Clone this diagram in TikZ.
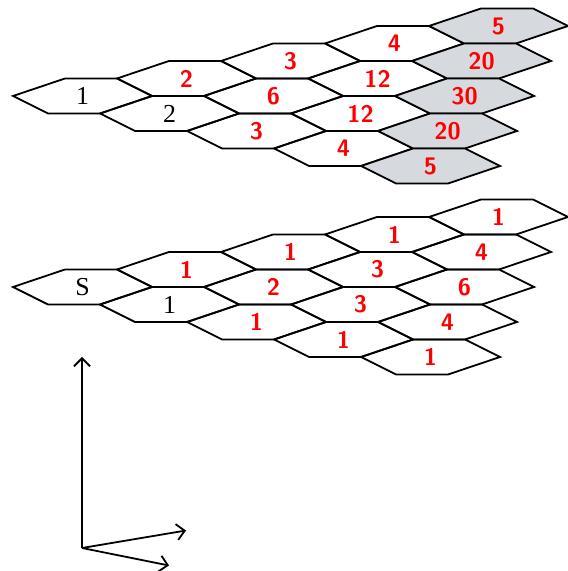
\documentclass[tikz,border=0pt]{standalone}
\usepackage{fontspec}
\setmainfont{Liberation Serif}
\usetikzlibrary{calc,arrows.meta}

\definecolor{cellgray}{RGB}{214,217,222}

\begin{document}
\begin{tikzpicture}[
            x=1bp, y=1bp,
            >={Straight Barb[length=8bp,width=16bp]},
            pics/hexcell/.style={code={
                \path[pic actions] (0,0) -- (52,17.5) -- (104,17.5) -- (139,0) -- (87,-17.5) -- (35,-17.5) -- cycle;}},
            cell/.style={draw, line width=1.8bp},
            shaded/.style={cell, fill=cellgray},
            plain/.style={font=\fontsize{26}{26}\selectfont},
            hand/.style={text=red, font=\sffamily\bfseries\fontsize{24}{24}\selectfont}
        ]
            \useasboundingbox (0,0) rectangle (568,571);

            % lattice steps: up-right, down-right, one layer up
            \coordinate (A) at (104,17.5);
            \coordinate (B) at (87,-17.5);
            \coordinate (C) at (0,191);
            \coordinate (lower) at (13,284);
            \coordinate (upper) at ($(lower)+(C)$);

            % upper layer
            \foreach \i/\j/\fl/\tx/\lab [count=\n] in {
                0/0/cell/plain/1, 0/1/cell/plain/2,
                1/0/cell/hand/2, 1/1/cell/hand/6, 0/2/cell/hand/3,
                2/0/cell/hand/3, 2/1/cell/hand/12, 1/2/cell/hand/12,
                3/0/cell/hand/4, 0/3/cell/hand/4,
                4/0/shaded/hand/5, 3/1/shaded/hand/20, 2/2/shaded/hand/30,
                1/3/shaded/hand/20, 0/4/shaded/hand/5}
            {
                \pic[\fl] at ($(upper)+\i*(A)+\j*(B)$) {hexcell};
                \node[\tx] (up\n) at ($(upper)+\i*(A)+\j*(B)+(69.5,0)$) {\lab};
            }

            % lower layer
            \foreach \i/\j/\tx/\lab [count=\n] in {
                0/0/plain/S, 0/1/plain/1,
                1/0/hand/1, 1/1/hand/2, 0/2/hand/1,
                2/0/hand/1, 2/1/hand/3, 1/2/hand/3, 0/3/hand/1,
                3/0/hand/1, 4/0/hand/1, 3/1/hand/4, 2/2/hand/6,
                1/3/hand/4, 0/4/hand/1}
            {
                \pic[cell] at ($(lower)+\i*(A)+\j*(B)$) {hexcell};
                \node[\tx] (lo\n) at ($(lower)+\i*(A)+\j*(B)+(69.5,0)$) {\lab};
            }

            % axes
            \coordinate (o) at (82,23);
            \coordinate (ea) at ($(o)+(A)$);
            \coordinate (eb) at ($(o)+(B)$);
            \coordinate (ec) at ($(o)+(C)$);
            \draw[->, line width=1.8bp] (o) -- (ec);
            \draw[->, line width=1.8bp] (o) -- (ea);
            \draw[->, line width=1.8bp] (o) -- (eb);
        \end{tikzpicture}
\end{document}
